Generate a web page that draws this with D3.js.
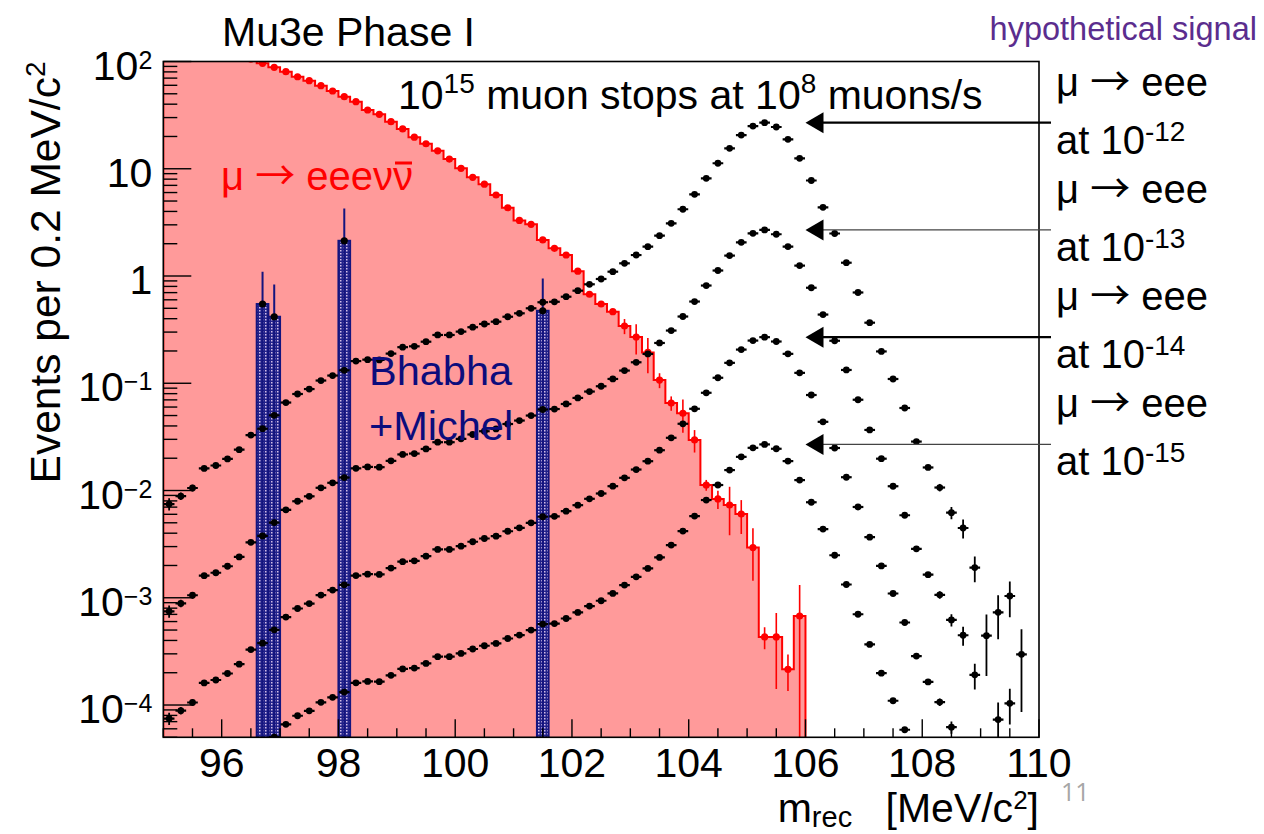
<!DOCTYPE html>
<html>
<head>
<meta charset="utf-8">
<script src="https://cdn.jsdelivr.net/npm/d3@7"></script>
<style>
  html, body { margin: 0; padding: 0; background: #fff; }
  svg { display: block; font-family: "Liberation Sans", Arial, Helvetica, sans-serif; }
</style>
</head>
<body>
<svg id="chart" width="1264" height="834"></svg>
<script>
// ---- data: reconstructed mass, 0.2 MeV/c^2 bins ----
const binCenters = [95.1,95.3,95.5,95.7,95.9,96.1,96.3,96.5,96.7,96.9,97.1,97.3,97.5,97.7,97.9,
  98.1,98.3,98.5,98.7,98.9,99.1,99.3,99.5,99.7,99.9,100.1,100.3,100.5,100.7,100.9,
  101.1,101.3,101.5,101.7,101.9,102.1,102.3,102.5,102.7,102.9,103.1,103.3,103.5,103.7,103.9,
  104.1,104.3,104.5,104.7,104.9,105.1,105.3,105.5,105.7,105.9,106.1,106.3,106.5,106.7,106.9,
  107.1,107.3,107.5,107.7,107.9,108.1,108.3,108.5,108.7,108.9,109.1,109.3,109.5,109.7,109.9];
const binWidth = 0.2;

// internal conversion mu -> eee nu nubar (events per bin)
const radiativeValues = [175,165,155,145,135,125,116,105,96.2,88.3,80.3,72.1,66.2,59.5,53.1,
  47.0,42.2,35.3,32.2,27.5,23.5,19.7,17.1,14.7,12.3,10.1,8.32,7.18,5.69,4.33,
  3.30,3.03,2.17,1.81,1.57,1.11,0.676,0.548,0.465,0.342,0.270,0.194,0.107,0.0654,0.0525,
  0.0296,0.01125,0.00834,0.00733,0.00604,0.00294,0.000431,0.000431,0.000215,0.000676,0,0,0,0,0,
  0,0,0,0,0,0,0,0,0,0,0,0,0,0,0];
const radiativeErrors = [0,0,0,0,0,0,0,0,0,0,0,0,0,0,0,
  0,0,0,0,0,0,0,0,0,0,0,0,0,0,0,
  0,0,0,0,0,0,0,0,0,0.055,0.085,0.07,0.017,0.010,0.018,
  0.007,0.0013,0.0016,0.0035,0.0021,0.0015,0.0001,0.00029,0.00008,0.00064,0,0,0,0,0,
  0,0,0,0,0,0,0,0,0,0,0,0,0,0,0];

// Bhabha + Michel accidental background
const bhabhaCenters = [96.7, 96.9, 98.1, 101.5];
const bhabhaValues = [0.548, 0.417, 2.13, 0.474];
const bhabhaErrors = [0.548, 0.417, 2.13, 0.474];

// mu -> eee signal for the four branching ratios
const signalBR12 = [7.48e-3,8.85e-3,1.055e-2,1.607e-2,1.71e-2,1.968e-2,2.405e-2,3.29e-2,3.77e-2,5.02e-2,6.61e-2,7.94e-2,8.83e-2,0.106,0.118,
  0.132,0.161,0.166,0.165,0.189,0.217,0.221,0.244,0.282,0.282,0.303,0.333,0.357,0.375,0.417,
  0.449,0.500,0.569,0.575,0.641,0.730,0.837,0.938,1.097,1.313,1.569,1.876,2.375,3.10,4.19,
  5.78,8.15,11.25,15.5,20.6,25.0,26.9,24.5,18.8,12.5,7.77,4.37,2.49,1.33,0.702,
  0.367,0.198,0.1096,5.88e-2,2.86e-2,1.64e-2,1.066e-2,6.21e-3,4.47e-3,1.91e-3,4.43e-4,7.31e-4,1.038e-3,2.97e-4,0];
const signalBR13 = [7.48e-4,8.85e-4,1.055e-3,1.607e-3,1.71e-3,1.968e-3,2.405e-3,3.29e-3,3.77e-3,5.02e-3,6.61e-3,7.94e-3,8.83e-3,1.06e-2,1.18e-2,
  1.32e-2,1.61e-2,1.66e-2,1.65e-2,1.89e-2,2.17e-2,2.21e-2,2.44e-2,2.82e-2,2.82e-2,3.03e-2,3.33e-2,3.57e-2,3.75e-2,4.17e-2,
  4.49e-2,5.00e-2,5.69e-2,5.75e-2,6.41e-2,7.30e-2,8.37e-2,9.38e-2,0.1097,0.1313,0.1569,0.1876,0.2375,0.310,0.419,
  0.578,0.815,1.125,1.55,2.06,2.50,2.69,2.45,1.88,1.25,0.777,0.437,0.249,0.133,7.02e-2,
  3.67e-2,1.98e-2,1.096e-2,5.88e-3,2.86e-3,1.64e-3,1.066e-3,6.21e-4,4.47e-4,1.91e-4,4.43e-5,7.31e-5,1.038e-4,2.97e-5,0];
const signalBR14 = [7.48e-5,8.85e-5,1.055e-4,1.607e-4,1.71e-4,1.968e-4,2.405e-4,3.29e-4,3.77e-4,5.02e-4,6.61e-4,7.94e-4,8.83e-4,1.06e-3,1.18e-3,
  1.32e-3,1.61e-3,1.66e-3,1.65e-3,1.89e-3,2.17e-3,2.21e-3,2.44e-3,2.82e-3,2.82e-3,3.03e-3,3.33e-3,3.57e-3,3.75e-3,4.17e-3,
  4.49e-3,5.00e-3,5.69e-3,5.75e-3,6.41e-3,7.30e-3,8.37e-3,9.38e-3,1.097e-2,1.313e-2,1.569e-2,1.876e-2,2.375e-2,3.10e-2,4.19e-2,
  5.78e-2,8.15e-2,0.1125,0.155,0.206,0.250,0.269,0.245,0.188,0.125,7.77e-2,4.37e-2,2.49e-2,1.33e-2,7.02e-3,
  3.67e-3,1.98e-3,1.096e-3,5.88e-4,2.86e-4,1.64e-4,1.066e-4,6.21e-5,4.47e-5,1.91e-5,4.43e-6,7.31e-6,1.038e-5,2.97e-6,0];
const signalBR15 = [7.48e-6,8.85e-6,1.055e-5,1.607e-5,1.71e-5,1.968e-5,2.405e-5,3.29e-5,3.77e-5,5.02e-5,6.61e-5,7.94e-5,8.83e-5,1.06e-4,1.18e-4,
  1.32e-4,1.61e-4,1.66e-4,1.65e-4,1.89e-4,2.17e-4,2.21e-4,2.44e-4,2.82e-4,2.82e-4,3.03e-4,3.33e-4,3.57e-4,3.75e-4,4.17e-4,
  4.49e-4,5.00e-4,5.69e-4,5.75e-4,6.41e-4,7.30e-4,8.37e-4,9.38e-4,1.097e-3,1.313e-3,1.569e-3,1.876e-3,2.375e-3,3.10e-3,4.19e-3,
  5.78e-3,8.15e-3,1.125e-2,1.55e-2,2.06e-2,2.50e-2,2.69e-2,2.45e-2,1.88e-2,1.25e-2,7.77e-3,4.37e-3,2.49e-3,1.33e-3,7.02e-4,
  3.67e-4,1.98e-4,1.096e-4,5.88e-5,2.86e-5,1.64e-5,1.066e-5,6.21e-6,4.47e-6,1.91e-6,4.43e-7,7.31e-7,1.038e-6,2.97e-7,0];
// relative statistical uncertainty of the simulated signal sample, per bin
const signalRelErr = [0.13,0.08,0.07,0.04,0.04,0.02,0.02,0.02,0.02,0.02,0.02,0.02,0.02,0.02,0.02,
  0.02,0.02,0.02,0.02,0.02,0.02,0.02,0.02,0.02,0.02,0.02,0.02,0.02,0.02,0.02,
  0.02,0.02,0.02,0.02,0.02,0.02,0.02,0.02,0.02,0.02,0.02,0.02,0.02,0.02,0.02,
  0.02,0.02,0.02,0.02,0.02,0.02,0.02,0.02,0.02,0.02,0.02,0.02,0.02,0.02,0.02,
  0.02,0.02,0.02,0.03,0.04,0.05,0.08,0.13,0.2,0.27,0.58,0.44,0.365,0.71,0];
const signalSeries = [signalBR12, signalBR13, signalBR14, signalBR15];
const signalExponents = ["-12", "-13", "-14", "-15"];

// axis ticks
const xTickLabels = [96, 98, 100, 102, 104, 106, 108, 110];
const yTickValues = [100, 10, 1, 0.1, 0.01, 0.001, 0.0001];
const yTickLabels = [["10","2"],["10",""],["1",""],["10","\u22121"],["10","\u22122"],["10","\u22123"],["10","\u22124"]];

// ---- layout ----
const frame = { left: 163.3, right: 1039, top: 61.5, bottom: 737.3 };
const FS = 41;
const ARROW_FONT = "'Noto Sans CJK SC', 'DejaVu Sans', sans-serif";
const svg = d3.select("#chart");

const x = d3.scaleLinear().domain([95, 110]).range([frame.left, frame.right]);
const y = d3.scaleLog().domain([5e-5, 100]).range([frame.bottom, frame.top]);

const defs = svg.append("defs");
defs.append("clipPath").attr("id", "plotClip")
  .append("rect").attr("x", frame.left).attr("y", frame.top)
  .attr("width", frame.right - frame.left).attr("height", frame.bottom - frame.top);
const pat = defs.append("pattern").attr("id", "hatchNavy")
  .attr("patternUnits", "userSpaceOnUse").attr("width", 3).attr("height", 3);
pat.append("rect").attr("width", 3).attr("height", 3).attr("fill", "#22228a");
pat.append("rect").attr("x", 1).attr("y", 1).attr("width", 1.5).attr("height", 1.5).attr("fill", "#d2bce8");

const plot = svg.append("g").attr("clip-path", "url(#plotClip)");

// ---- radiative decay histogram ----
const radBins = binCenters.map((c, i) => ({ lo: c - binWidth / 2, hi: c + binWidth / 2, c, v: radiativeValues[i], e: radiativeErrors[i] }))
  .filter(d => d.v > 0);
let histPath = `M${x(radBins[0].lo)},${frame.bottom}`;
radBins.forEach(d => { histPath += `L${x(d.lo)},${y(d.v)}L${x(d.hi)},${y(d.v)}`; });
histPath += `L${x(radBins[radBins.length - 1].hi)},${frame.bottom}`;
plot.append("path").attr("d", histPath + "Z").attr("fill", "#ff9a9a").attr("stroke", "none");

// ---- Bhabha + Michel bars ----
const bh = bhabhaCenters.map((c, i) => ({ c, v: bhabhaValues[i], e: bhabhaErrors[i] }));
plot.selectAll("rect.bh").data(bh).enter().append("rect").attr("class", "bh")
  .attr("x", d => x(d.c - binWidth / 2)).attr("width", d => x(d.c + binWidth / 2) - x(d.c - binWidth / 2))
  .attr("y", d => y(d.v)).attr("height", d => frame.bottom - y(d.v))
  .attr("fill", "url(#hatchNavy)").attr("stroke", "#14147e").attr("stroke-width", 2);

plot.append("path").attr("d", histPath).attr("fill", "none").attr("stroke", "#ff0000").attr("stroke-width", 2);

// red error bars and markers
const errY = (v, e, up) => {
  const t = up ? v + e : v - e;
  return t > 0 ? y(t) : frame.bottom + 5;
};
plot.selectAll("line.rerr").data(radBins.filter(d => d.e > 0)).enter().append("line")
  .attr("x1", d => x(d.c)).attr("x2", d => x(d.c))
  .attr("y1", d => errY(d.v, d.e, true)).attr("y2", d => errY(d.v, d.e, false))
  .attr("stroke", "#ff0000").attr("stroke-width", 1.6);
plot.selectAll("circle.rpt").data(radBins).enter().append("circle")
  .attr("cx", d => x(d.c)).attr("cy", d => y(d.v)).attr("r", 3.6).attr("fill", "#ff0000");

// Bhabha error bars and markers
plot.selectAll("line.berr").data(bh).enter().append("line")
  .attr("x1", d => x(d.c)).attr("x2", d => x(d.c))
  .attr("y1", d => errY(d.v, d.e, true)).attr("y2", d => errY(d.v, d.e, false))
  .attr("stroke", "#14147e").attr("stroke-width", 2);
plot.selectAll("circle.bpt").data(bh).enter().append("circle")
  .attr("cx", d => x(d.c)).attr("cy", d => y(d.v)).attr("r", 3.6).attr("fill", "#000");

// ---- signal points ----
signalSeries.forEach(series => {
  const pts = binCenters.map((c, i) => ({ c, v: series[i], e: series[i] * signalRelErr[i] }))
    .filter(d => d.v >= 5e-5);
  const g = plot.append("g");
  g.selectAll("line.h").data(pts).enter().append("line")
    .attr("x1", d => x(d.c - binWidth / 2) + 0.5).attr("x2", d => x(d.c + binWidth / 2) - 0.5)
    .attr("y1", d => y(d.v)).attr("y2", d => y(d.v))
    .attr("stroke", "#000").attr("stroke-width", 2.2);
  g.selectAll("line.v").data(pts).enter().append("line")
    .attr("x1", d => x(d.c)).attr("x2", d => x(d.c))
    .attr("y1", d => errY(d.v, d.e, true)).attr("y2", d => errY(d.v, d.e, false))
    .attr("stroke", "#000").attr("stroke-width", 1.8);
  g.selectAll("circle").data(pts).enter().append("circle")
    .attr("cx", d => x(d.c)).attr("cy", d => y(d.v)).attr("r", 3.4).attr("fill", "#000");
});

// ---- frame and ticks ----
const axes = svg.append("g").attr("stroke", "#000");
d3.range(95, 110.001, 0.5).forEach(t => {
  const major = Math.abs(t / 2 - Math.round(t / 2)) < 1e-6;
  axes.append("line").attr("x1", x(t)).attr("x2", x(t))
    .attr("y1", frame.bottom).attr("y2", frame.bottom - (major ? 18 : 9)).attr("stroke-width", 1.4);
});
for (let k = -5; k <= 1; k++) {
  for (let m = 1; m <= 9; m++) {
    const v = m * Math.pow(10, k);
    if (v < 5e-5 * 0.999 || v > 100.001) continue;
    axes.append("line").attr("x1", frame.left).attr("x2", frame.left + (m === 1 ? 28 : 14))
      .attr("y1", y(v)).attr("y2", y(v)).attr("stroke-width", 1.4);
  }
}
axes.append("line").attr("x1", frame.left).attr("x2", frame.left + 28)
  .attr("y1", y(100)).attr("y2", y(100)).attr("stroke-width", 1.4);
axes.append("rect").attr("x", frame.left).attr("y", frame.top)
  .attr("width", frame.right - frame.left).attr("height", frame.bottom - frame.top)
  .attr("fill", "none").attr("stroke-width", 1.6);

// tick labels
svg.append("g").selectAll("text").data(xTickLabels).enter().append("text")
  .attr("x", d => x(d)).attr("y", frame.bottom + 39.5)
  .attr("text-anchor", "middle").attr("font-size", FS).text(d => d);

yTickValues.forEach((v, i) => {
  const t = svg.append("text").attr("x", frame.left - 11).attr("y", y(v) + 18)
    .attr("text-anchor", "end").attr("font-size", FS);
  t.append("tspan").text(yTickLabels[i][0]);
  if (yTickLabels[i][1]) t.append("tspan").attr("font-size", 25).attr("dy", -11).text(yTickLabels[i][1]);
});

// axis titles
const xt = svg.append("text").attr("x", frame.right).attr("y", 822).attr("text-anchor", "end").attr("font-size", FS);
xt.append("tspan").text("m");
xt.append("tspan").attr("font-size", 29).attr("dy", 5).text("rec");
xt.append("tspan").attr("dy", -5).attr("dx", 22).text(" [MeV/c");
xt.append("tspan").attr("font-size", 26).attr("dy", -13).text("2");
xt.append("tspan").attr("dy", 13).text("]");

const yt = svg.append("text").attr("transform", `translate(60,${frame.top}) rotate(-90)`)
  .attr("text-anchor", "end").attr("font-size", 42.5);
yt.append("tspan").text("Events per 0.2 MeV/c");
yt.append("tspan").attr("font-size", 28).attr("dy", -15).text("2");

// title and annotations
svg.append("text").attr("x", 222).attr("y", 46).attr("font-size", FS).text("Mu3e Phase I");

const rate = svg.append("text").attr("x", 398).attr("y", 109).attr("font-size", 41);
rate.append("tspan").text("10");
rate.append("tspan").attr("font-size", 28).attr("dy", -16).text("15");
rate.append("tspan").attr("dy", 16).text(" muon stops at 10");
rate.append("tspan").attr("font-size", 28).attr("dy", -16).text("8");
rate.append("tspan").attr("dy", 16).text(" muons/s");

const rad = svg.append("text").attr("x", 221).attr("y", 190).attr("font-size", 40).attr("fill", "#ff0000");
rad.append("tspan").text("\u03bc ");
rad.append("tspan").attr("font-family", ARROW_FONT).text("\u2192");
rad.append("tspan").text(" eee\u03bd\u03bd");
// bar over the last nu (antineutrino)
{
  const node = rad.node();
  const n = node.getNumberOfChars();
  const ext = node.getExtentOfChar(n - 1);
  svg.append("line").attr("x1", ext.x + 2).attr("x2", ext.x + ext.width - 1)
    .attr("y1", 190 - 27).attr("y2", 190 - 27).attr("stroke", "#ff0000").attr("stroke-width", 3);
}

svg.append("text").attr("x", 369).attr("y", 385).attr("font-size", 41.5).attr("fill", "#0c0c7c").text("Bhabha");
svg.append("text").attr("x", 369).attr("y", 440).attr("font-size", 41.5).attr("fill", "#0c0c7c").text("+Michel");

// arrows pointing to each signal peak, with labels outside the frame
signalSeries.forEach((series, k) => {
  const yPeak = y(d3.max(series));
  const thick = k % 2 === 0;
  const tipX = x(106.0);
  svg.append("line").attr("x1", tipX + 16).attr("x2", 1051).attr("y1", yPeak).attr("y2", yPeak)
    .attr("stroke", thick ? "#000" : "#444").attr("stroke-width", thick ? 2.2 : 1.2);
  svg.append("path").attr("d", `M${tipX},${yPeak}L${tipX + 18},${yPeak - 10.5}L${tipX + 18},${yPeak + 10.5}Z`).attr("fill", "#000");
  const mu = svg.append("text").attr("x", 1056).attr("y", yPeak - 27).attr("font-size", 40);
  mu.append("tspan").text("\u03bc ");
  mu.append("tspan").attr("font-family", ARROW_FONT).text("\u2192");
  mu.append("tspan").text(" eee");
  const at = svg.append("text").attr("x", 1056).attr("y", yPeak + 31).attr("font-size", 40);
  at.append("tspan").text("at 10");
  at.append("tspan").attr("font-size", 28).attr("dy", -13).text(signalExponents[k]);
});

svg.append("text").attr("x", 1257).attr("y", 40).attr("text-anchor", "end")
  .attr("font-size", 32.5).attr("fill", "#5b2d8e")
  .text("hypothetical signal");
svg.append("text").attr("x", 1061).attr("y", 801)
  .attr("font-family", "'Open Sans', 'Noto Sans', sans-serif").attr("font-size", 25).attr("fill", "#a6a6a6")
  .text("11");
</script>
</body>
</html>
